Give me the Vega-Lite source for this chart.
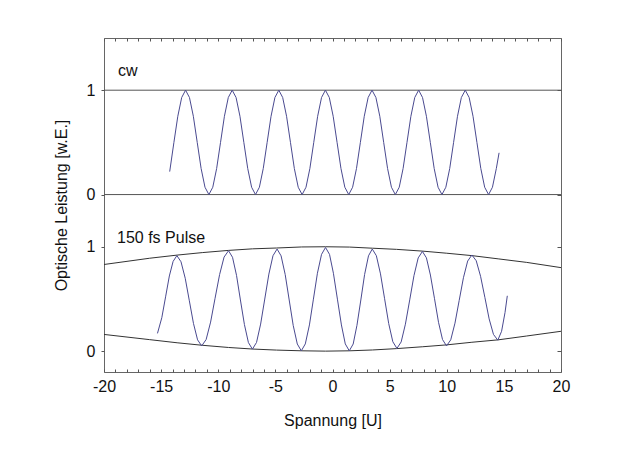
{
  "$schema": "https://vega.github.io/schema/vega-lite/v6.json",
  "width": 457,
  "height": 334,
  "autosize": {"type": "none"},
  "padding": {"left": 104, "top": 38, "right": 59, "bottom": 93},
  "background": "white",
  "config": {
    "view": {"stroke": "#666", "strokeWidth": 1},
    "font": "Liberation Sans",
    "axis": {"grid": false, "domain": false, "labelFont": "Liberation Sans", "labelFontSize": 16, "labelColor": "#111", "titleFont": "Liberation Sans", "titleFontSize": 16, "titleFontWeight": "normal", "titleColor": "#111", "tickColor": "#555"}
  },
  "datasets": {
    "cwref": [{"I": 0}, {"I": 1}],
    "cw": [
      {"x": -14.25, "I": 0.22}, {"x": -13.88, "I": 0.5}, {"x": -13.54, "I": 0.75}, {"x": -13.2, "I": 0.93},
      {"x": -12.86, "I": 1}, {"x": -12.52, "I": 0.93}, {"x": -12.18, "I": 0.75}, {"x": -11.84, "I": 0.5}, {"x": -11.5, "I": 0.25}, {"x": -11.16, "I": 0.07}, {"x": -10.82, "I": 0}, {"x": -10.48, "I": 0.07}, {"x": -10.14, "I": 0.25}, {"x": -9.8, "I": 0.5}, {"x": -9.46, "I": 0.75}, {"x": -9.12, "I": 0.93},
      {"x": -8.78, "I": 1}, {"x": -8.44, "I": 0.93}, {"x": -8.1, "I": 0.75}, {"x": -7.76, "I": 0.5}, {"x": -7.42, "I": 0.25}, {"x": -7.08, "I": 0.07}, {"x": -6.74, "I": 0}, {"x": -6.4, "I": 0.07}, {"x": -6.06, "I": 0.25}, {"x": -5.72, "I": 0.5}, {"x": -5.38, "I": 0.75}, {"x": -5.04, "I": 0.93},
      {"x": -4.7, "I": 1}, {"x": -4.36, "I": 0.93}, {"x": -4.02, "I": 0.75}, {"x": -3.68, "I": 0.5}, {"x": -3.34, "I": 0.25}, {"x": -3.0, "I": 0.07}, {"x": -2.66, "I": 0}, {"x": -2.32, "I": 0.07}, {"x": -1.98, "I": 0.25}, {"x": -1.64, "I": 0.5}, {"x": -1.3, "I": 0.75}, {"x": -0.96, "I": 0.93},
      {"x": -0.62, "I": 1}, {"x": -0.28, "I": 0.93}, {"x": 0.06, "I": 0.75}, {"x": 0.4, "I": 0.5}, {"x": 0.74, "I": 0.25}, {"x": 1.08, "I": 0.07}, {"x": 1.42, "I": 0}, {"x": 1.76, "I": 0.07}, {"x": 2.1, "I": 0.25}, {"x": 2.44, "I": 0.5}, {"x": 2.78, "I": 0.75}, {"x": 3.12, "I": 0.93},
      {"x": 3.46, "I": 1}, {"x": 3.8, "I": 0.93}, {"x": 4.14, "I": 0.75}, {"x": 4.48, "I": 0.5}, {"x": 4.82, "I": 0.25}, {"x": 5.16, "I": 0.07}, {"x": 5.5, "I": 0}, {"x": 5.84, "I": 0.07}, {"x": 6.18, "I": 0.25}, {"x": 6.52, "I": 0.5}, {"x": 6.86, "I": 0.75}, {"x": 7.2, "I": 0.93},
      {"x": 7.54, "I": 1}, {"x": 7.88, "I": 0.93}, {"x": 8.22, "I": 0.75}, {"x": 8.56, "I": 0.5}, {"x": 8.9, "I": 0.25}, {"x": 9.24, "I": 0.07}, {"x": 9.58, "I": 0}, {"x": 9.92, "I": 0.07}, {"x": 10.26, "I": 0.25}, {"x": 10.6, "I": 0.5}, {"x": 10.94, "I": 0.75}, {"x": 11.28, "I": 0.93},
      {"x": 11.62, "I": 1}, {"x": 11.96, "I": 0.93}, {"x": 12.3, "I": 0.75}, {"x": 12.64, "I": 0.5}, {"x": 12.98, "I": 0.25}, {"x": 13.32, "I": 0.07}, {"x": 13.66, "I": 0}, {"x": 14.0, "I": 0.07}, {"x": 14.34, "I": 0.25}, {"x": 14.58, "I": 0.4}
    ],
    "pulse": [
      {"x": -15.32, "I": 0.17}, {"x": -14.94, "I": 0.32}, {"x": -14.61, "I": 0.52}, {"x": -14.28, "I": 0.72}, {"x": -13.95, "I": 0.86}, {"x": -13.62, "I": 0.915},
      {"x": -13.26, "I": 0.856}, {"x": -12.89, "I": 0.698}, {"x": -12.53, "I": 0.482}, {"x": -12.17, "I": 0.266}, {"x": -11.81, "I": 0.108}, {"x": -11.45, "I": 0.05},
      {"x": -11.06, "I": 0.111}, {"x": -10.67, "I": 0.278}, {"x": -10.28, "I": 0.506}, {"x": -9.88, "I": 0.734}, {"x": -9.49, "I": 0.901}, {"x": -9.1, "I": 0.962},
      {"x": -8.75, "I": 0.899}, {"x": -8.4, "I": 0.726}, {"x": -8.06, "I": 0.49}, {"x": -7.71, "I": 0.255}, {"x": -7.36, "I": 0.082}, {"x": -7.01, "I": 0.019},
      {"x": -6.65, "I": 0.083}, {"x": -6.29, "I": 0.259}, {"x": -5.93, "I": 0.499}, {"x": -5.57, "I": 0.738}, {"x": -5.21, "I": 0.914}, {"x": -4.85, "I": 0.978},
      {"x": -4.5, "I": 0.913}, {"x": -4.14, "I": 0.734}, {"x": -3.79, "I": 0.49}, {"x": -3.44, "I": 0.247}, {"x": -3.08, "I": 0.068}, {"x": -2.73, "I": 0.003},
      {"x": -2.38, "I": 0.069}, {"x": -2.02, "I": 0.251}, {"x": -1.67, "I": 0.498}, {"x": -1.32, "I": 0.746}, {"x": -0.96, "I": 0.927}, {"x": -0.61, "I": 0.993},
      {"x": -0.26, "I": 0.927}, {"x": 0.08, "I": 0.746}, {"x": 0.43, "I": 0.498}, {"x": 0.78, "I": 0.251}, {"x": 1.12, "I": 0.069}, {"x": 1.47, "I": 0.003},
      {"x": 1.81, "I": 0.068}, {"x": 2.14, "I": 0.247}, {"x": 2.48, "I": 0.49}, {"x": 2.81, "I": 0.734}, {"x": 3.15, "I": 0.913}, {"x": 3.48, "I": 0.978},
      {"x": 3.84, "I": 0.914}, {"x": 4.2, "I": 0.74}, {"x": 4.56, "I": 0.502}, {"x": 4.92, "I": 0.264}, {"x": 5.28, "I": 0.09}, {"x": 5.64, "I": 0.026},
      {"x": 6.01, "I": 0.088}, {"x": 6.38, "I": 0.258}, {"x": 6.76, "I": 0.491}, {"x": 7.13, "I": 0.723}, {"x": 7.5, "I": 0.893}, {"x": 7.87, "I": 0.955},
      {"x": 8.22, "I": 0.894}, {"x": 8.57, "I": 0.729}, {"x": 8.93, "I": 0.502}, {"x": 9.28, "I": 0.276}, {"x": 9.63, "I": 0.111}, {"x": 9.98, "I": 0.05},
      {"x": 10.35, "I": 0.108}, {"x": 10.72, "I": 0.268}, {"x": 11.09, "I": 0.486}, {"x": 11.46, "I": 0.703}, {"x": 11.83, "I": 0.863}, {"x": 12.2, "I": 0.921},
      {"x": 12.58, "I": 0.866}, {"x": 12.96, "I": 0.717}, {"x": 13.34, "I": 0.513}, {"x": 13.71, "I": 0.309}, {"x": 14.09, "I": 0.16}, {"x": 14.47, "I": 0.105},
      {"x": 14.8, "I": 0.19}, {"x": 15.1, "I": 0.37}, {"x": 15.3, "I": 0.53}
    ],
    "envelope": [
      {"edge": "upper", "x": -20, "I": 0.83}, {"edge": "upper", "x": -16, "I": 0.89}, {"edge": "upper", "x": -13.6, "I": 0.92}, {"edge": "upper", "x": -11.4, "I": 0.944}, {"edge": "upper", "x": -9.1, "I": 0.965}, {"edge": "upper", "x": -7, "I": 0.98}, {"edge": "upper", "x": -4.9, "I": 0.988}, {"edge": "upper", "x": -2.7, "I": 0.998}, {"edge": "upper", "x": -0.6, "I": 1.0}, {"edge": "upper", "x": 1.5, "I": 0.997}, {"edge": "upper", "x": 3.5, "I": 0.986}, {"edge": "upper", "x": 5.6, "I": 0.975}, {"edge": "upper", "x": 7.9, "I": 0.958}, {"edge": "upper", "x": 10, "I": 0.938}, {"edge": "upper", "x": 12.2, "I": 0.915}, {"edge": "upper", "x": 14.5, "I": 0.884}, {"edge": "upper", "x": 17, "I": 0.85}, {"edge": "upper", "x": 20, "I": 0.8},
      {"edge": "lower", "x": -20, "I": 0.16}, {"edge": "lower", "x": -16, "I": 0.11}, {"edge": "lower", "x": -13.6, "I": 0.08}, {"edge": "lower", "x": -11.4, "I": 0.056}, {"edge": "lower", "x": -9.1, "I": 0.035}, {"edge": "lower", "x": -7, "I": 0.02}, {"edge": "lower", "x": -4.9, "I": 0.01}, {"edge": "lower", "x": -2.7, "I": 0.003}, {"edge": "lower", "x": -0.6, "I": 0.0}, {"edge": "lower", "x": 1.5, "I": 0.003}, {"edge": "lower", "x": 3.5, "I": 0.011}, {"edge": "lower", "x": 5.6, "I": 0.024}, {"edge": "lower", "x": 7.9, "I": 0.042}, {"edge": "lower", "x": 10, "I": 0.06}, {"edge": "lower", "x": 12.2, "I": 0.085}, {"edge": "lower", "x": 14.5, "I": 0.108}, {"edge": "lower", "x": 17, "I": 0.145}, {"edge": "lower", "x": 20, "I": 0.19}
    ],
    "labels": [
      {"x": -18.77, "I": 2.684, "text": "cw"},
      {"x": -18.86, "I": 1.084, "text": "150 fs Pulse"}
    ]
  },
  "layer": [
    {
      "data": {"name": "cwref"},
      "mark": {"type": "rule", "color": "#555", "strokeWidth": 1},
      "encoding": {
        "y": {"field": "I", "type": "quantitative", "scale": {"domain": [-1.7, 1.5], "nice": false, "zero": false},
          "axis": {"orient": "right", "values": [0, 1], "labels": false, "tickSize": -4, "title": null}}
      }
    },
    {
      "data": {"name": "cw"},
      "mark": {"type": "line", "color": "#4a4a90", "strokeWidth": 1},
      "encoding": {
        "x": {"field": "x", "type": "quantitative", "scale": {"domain": [-20, 20], "nice": false, "zero": false},
          "axis": {"orient": "top", "values": [-20,-19,-18,-17,-16,-15,-14,-13,-12,-11,-10,-9,-8,-7,-6,-5,-4,-3,-2,-1,0,1,2,3,4,5,6,7,8,9,10,11,12,13,14,15,16,17,18,19,20], "labels": false, "tickSize": -3, "title": null}},
        "y": {"field": "I", "type": "quantitative", "scale": {"domain": [-1.7, 1.5], "nice": false, "zero": false},
          "axis": {"orient": "left", "values": [0, 1], "tickSize": 3, "labelPadding": 6, "title": null}}
      }
    },
    {
      "data": {"name": "envelope"},
      "mark": {"type": "line", "color": "#333", "strokeWidth": 1},
      "encoding": {
        "x": {"field": "x", "type": "quantitative", "scale": {"domain": [-20, 20], "nice": false, "zero": false}, "axis": null},
        "y": {"field": "I", "type": "quantitative", "scale": {"domain": [-0.2, 3.0], "nice": false, "zero": false},
          "axis": {"orient": "right", "values": [0, 1], "labels": false, "tickSize": -4, "title": null}},
        "detail": {"field": "edge", "type": "nominal"}
      }
    },
    {
      "data": {"name": "pulse"},
      "mark": {"type": "line", "color": "#4a4a90", "strokeWidth": 1},
      "encoding": {
        "x": {"field": "x", "type": "quantitative", "scale": {"domain": [-20, 20], "nice": false, "zero": false},
          "axis": {"orient": "bottom", "values": [-20,-19,-18,-17,-16,-15,-14,-13,-12,-11,-10,-9,-8,-7,-6,-5,-4,-3,-2,-1,0,1,2,3,4,5,6,7,8,9,10,11,12,13,14,15,16,17,18,19,20],
            "labelExpr": "datum.value % 5 === 0 ? '' + datum.value : ''", "labelFlush": false, "tickSize": -3, "labelPadding": 9, "labelOverlap": false, "title": "Spannung [U]", "titlePadding": 18}},
        "y": {"field": "I", "type": "quantitative", "scale": {"domain": [-0.2, 3.0], "nice": false, "zero": false},
          "axis": {"orient": "left", "values": [0, 1], "tickSize": 3, "labelPadding": 6, "title": "Optische Leistung [w.E.]", "titlePadding": 17}}
      }
    },
    {
      "data": {"name": "labels"},
      "mark": {"type": "text", "align": "left", "baseline": "middle", "fontSize": 16, "font": "Liberation Sans", "color": "#111"},
      "encoding": {
        "x": {"field": "x", "type": "quantitative", "scale": {"domain": [-20, 20], "nice": false, "zero": false}, "axis": null},
        "y": {"field": "I", "type": "quantitative", "scale": {"domain": [-0.2, 3.0], "nice": false, "zero": false}, "axis": null},
        "text": {"field": "text", "type": "nominal"}
      }
    }
  ],
  "resolve": {"scale": {"x": "independent", "y": "independent"}, "axis": {"x": "independent", "y": "independent"}}
}
